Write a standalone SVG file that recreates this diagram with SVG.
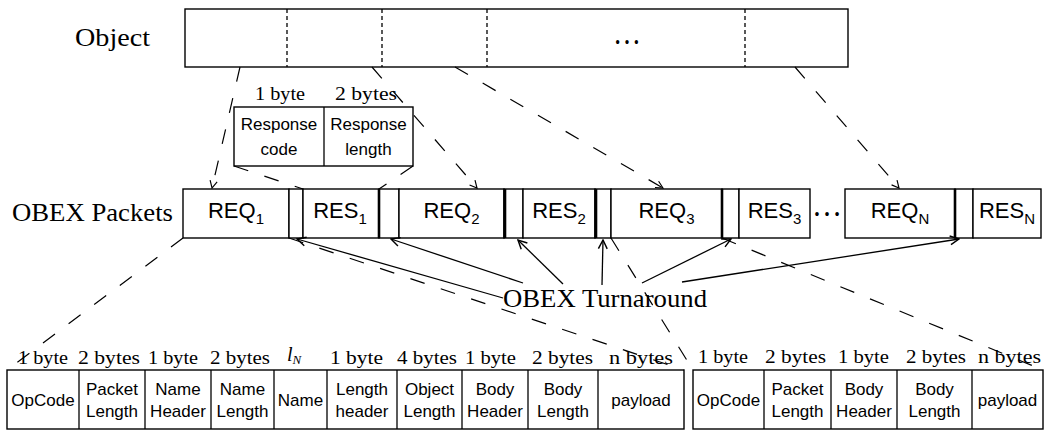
<svg xmlns="http://www.w3.org/2000/svg" width="1045" height="430" viewBox="0 0 1045 430">
<style>
.bx{fill:#fff;stroke:#000;stroke-width:1.4}
.thk{stroke:#000;stroke-width:2.6}
.dv{stroke:#000;stroke-width:1.3;stroke-dasharray:4,3}
.dl{fill:none;stroke:#000;stroke-width:1.2;stroke-dasharray:15,17}
.sl{fill:none;stroke:#000;stroke-width:1.3}
.serif{font-family:"Liberation Serif","Times New Roman",serif;fill:#000}
.big{font-size:25px}
.sz{font-size:18.5px}
.sans{font-family:"Liberation Sans",Arial,sans-serif;fill:#000;text-anchor:middle}
.pk{font-size:22px}
.f{font-size:17px}
</style>
<defs>
<marker id="ah" viewBox="0 0 10 10" refX="9" refY="5" markerWidth="9" markerHeight="9" markerUnits="userSpaceOnUse" orient="auto">
<path d="M1,1 L9,5 L1,9" fill="none" stroke="#000" stroke-width="1.3" stroke-dasharray="none"/>
</marker>
<marker id="ah2" viewBox="0 0 10 10" refX="9" refY="5" markerWidth="11" markerHeight="11" markerUnits="userSpaceOnUse" orient="auto">
<path d="M1,1 L9,5 L1,9" fill="none" stroke="#000" stroke-width="1.3"/>
</marker>
</defs>
<rect width="1045" height="430" fill="#fff"/>

<g id="object">
<text class="serif" x="75" y="46" font-size="26" textLength="75" lengthAdjust="spacingAndGlyphs">Object</text>
<rect class="bx" x="185" y="9" width="663" height="58"/>
<line class="dv" x1="287" y1="9" x2="287" y2="67"/>
<line class="dv" x1="382" y1="9" x2="382" y2="67"/>
<line class="dv" x1="487" y1="9" x2="487" y2="67"/>
<line class="dv" x1="745" y1="9" x2="745" y2="67"/>
<text class="serif" x="613" y="44" font-size="34" textLength="28" lengthAdjust="spacingAndGlyphs">…</text>
</g>

<g id="response">
<text class="serif sz" x="255" y="100" textLength="50" lengthAdjust="spacingAndGlyphs">1 byte</text>
<text class="serif sz" x="335" y="100" textLength="62" lengthAdjust="spacingAndGlyphs">2 bytes</text>
<rect class="bx" x="234" y="107" width="179" height="59"/>
<line class="sl" x1="324" y1="107" x2="324" y2="166"/>
<text class="sans f" x="279" y="130">Response</text>
<text class="sans f" x="279" y="155">code</text>
<text class="sans f" x="368.5" y="130">Response</text>
<text class="sans f" x="368.5" y="155">length</text>
</g>

<g id="packets">
<text class="serif big" x="12" y="221" textLength="161" lengthAdjust="spacingAndGlyphs">OBEX Packets</text>
<g id="req1"><rect class="bx" x="183" y="189" width="106" height="49"/><text class="sans pk" x="236" y="218">REQ<tspan font-size="15" dy="6">1</tspan></text></g>
<g id="gap1"><rect class="bx" x="289" y="189" width="14" height="49"/></g>
<g id="res1"><rect class="bx" x="303" y="189" width="76" height="49"/><text class="sans pk" x="340" y="218">RES<tspan font-size="15" dy="6">1</tspan></text></g>
<g id="gap2"><rect class="bx" x="379" y="189" width="20" height="49"/><line class="thk" x1="379" y1="189" x2="379" y2="238"/></g>
<g id="req2"><rect class="bx" x="399" y="189" width="105" height="49"/><text class="sans pk" x="451.5" y="218">REQ<tspan font-size="15" dy="6">2</tspan></text></g>
<g id="gap3"><rect class="bx" x="504" y="189" width="19" height="49"/><line class="thk" x1="505" y1="189" x2="505" y2="238"/></g>
<g id="res2"><rect class="bx" x="523" y="189" width="72" height="49"/><text class="sans pk" x="559" y="218">RES<tspan font-size="15" dy="6">2</tspan></text></g>
<g id="gap4"><rect class="bx" x="595" y="189" width="16" height="49"/><line class="thk" x1="596" y1="189" x2="596" y2="238"/></g>
<g id="req3"><rect class="bx" x="611" y="189" width="111" height="49"/><text class="sans pk" x="666.5" y="218">REQ<tspan font-size="15" dy="6">3</tspan></text></g>
<g id="gap5"><rect class="bx" x="722" y="189" width="17" height="49"/><line class="thk" x1="722" y1="189" x2="722" y2="238"/></g>
<g id="res3"><rect class="bx" x="739" y="189" width="71" height="49"/><text class="sans pk" x="774.5" y="218">RES<tspan font-size="15" dy="6">3</tspan></text></g>
<text class="serif" x="812" y="216" font-size="34" textLength="30" lengthAdjust="spacingAndGlyphs">…</text>
<g id="reqN"><rect class="bx" x="845" y="189" width="110" height="49"/><text class="sans pk" x="900" y="218">REQ<tspan font-size="15" dy="6">N</tspan></text></g>
<g id="gapN"><rect class="bx" x="955" y="189" width="18" height="49"/><line class="thk" x1="955" y1="189" x2="955" y2="238"/></g>
<g id="resN"><rect class="bx" x="973" y="189" width="68" height="49"/><text class="sans pk" x="1007" y="218">RES<tspan font-size="15" dy="6">N</tspan></text></g>
</g>

<g id="turnaround">
<text class="serif big" x="503" y="307" textLength="204" lengthAdjust="spacingAndGlyphs">OBEX Turnaround</text>
</g>

<g id="req-fields">
<text class="serif sz" x="18" y="364" textLength="50" lengthAdjust="spacingAndGlyphs">1 byte</text>
<text class="serif sz" x="78" y="364" textLength="62" lengthAdjust="spacingAndGlyphs">2 bytes</text>
<text class="serif sz" x="148" y="364" textLength="50" lengthAdjust="spacingAndGlyphs">1 byte</text>
<text class="serif sz" x="210" y="364" textLength="60" lengthAdjust="spacingAndGlyphs">2 bytes</text>
<text class="serif" x="287" y="361" font-size="20" font-style="italic">l<tspan font-size="13" dy="3">N</tspan></text>
<text class="serif sz" x="330" y="364" textLength="53" lengthAdjust="spacingAndGlyphs">1 byte</text>
<text class="serif sz" x="397" y="364" textLength="60" lengthAdjust="spacingAndGlyphs">4 bytes</text>
<text class="serif sz" x="465" y="364" textLength="51" lengthAdjust="spacingAndGlyphs">1 byte</text>
<text class="serif sz" x="532" y="364" textLength="61" lengthAdjust="spacingAndGlyphs">2 bytes</text>
<text class="serif sz" x="609" y="364" textLength="64" lengthAdjust="spacingAndGlyphs">n bytes</text>
<rect class="bx" x="7" y="370" width="677" height="59"/>
<line class="sl" x1="79" y1="370" x2="79" y2="429"/>
<line class="sl" x1="145" y1="370" x2="145" y2="429"/>
<line class="sl" x1="211" y1="370" x2="211" y2="429"/>
<line class="sl" x1="274" y1="370" x2="274" y2="429"/>
<line class="sl" x1="327" y1="370" x2="327" y2="429"/>
<line class="sl" x1="397" y1="370" x2="397" y2="429"/>
<line class="sl" x1="462" y1="370" x2="462" y2="429"/>
<line class="sl" x1="528" y1="370" x2="528" y2="429"/>
<line class="sl" x1="598" y1="370" x2="598" y2="429"/>
<text class="sans f" x="43" y="406">OpCode</text>
<text class="sans f" x="112" y="395">Packet</text><text class="sans f" x="112" y="417">Length</text>
<text class="sans f" x="178" y="395">Name</text><text class="sans f" x="178" y="417">Header</text>
<text class="sans f" x="242.5" y="395">Name</text><text class="sans f" x="242.5" y="417">Length</text>
<text class="sans f" x="300.5" y="406">Name</text>
<text class="sans f" x="362" y="395">Length</text><text class="sans f" x="362" y="417">header</text>
<text class="sans f" x="429.5" y="395">Object</text><text class="sans f" x="429.5" y="417">Length</text>
<text class="sans f" x="495" y="395">Body</text><text class="sans f" x="495" y="417">Header</text>
<text class="sans f" x="563" y="395">Body</text><text class="sans f" x="563" y="417">Length</text>
<text class="sans f" x="641" y="406">payload</text>
</g>

<g id="req3-fields">
<text class="serif sz" x="698" y="363" textLength="50" lengthAdjust="spacingAndGlyphs">1 byte</text>
<text class="serif sz" x="765" y="363" textLength="61" lengthAdjust="spacingAndGlyphs">2 bytes</text>
<text class="serif sz" x="838" y="363" textLength="51" lengthAdjust="spacingAndGlyphs">1 byte</text>
<text class="serif sz" x="906" y="363" textLength="60" lengthAdjust="spacingAndGlyphs">2 bytes</text>
<text class="serif sz" x="978" y="363" textLength="63" lengthAdjust="spacingAndGlyphs">n bytes</text>
<rect class="bx" x="693" y="370" width="350" height="59"/>
<line class="sl" x1="764" y1="370" x2="764" y2="429"/>
<line class="sl" x1="831" y1="370" x2="831" y2="429"/>
<line class="sl" x1="897" y1="370" x2="897" y2="429"/>
<line class="sl" x1="972" y1="370" x2="972" y2="429"/>
<text class="sans f" x="728.5" y="406">OpCode</text>
<text class="sans f" x="797.5" y="395">Packet</text><text class="sans f" x="797.5" y="417">Length</text>
<text class="sans f" x="864" y="395">Body</text><text class="sans f" x="864" y="417">Header</text>
<text class="sans f" x="934.5" y="395">Body</text><text class="sans f" x="934.5" y="417">Length</text>
<text class="sans f" x="1007.5" y="406">payload</text>
</g>

<g id="connectors">
<line class="dl" x1="240" y1="67" x2="212" y2="188" marker-end="url(#ah)"/>
<line class="dl" x1="372" y1="67" x2="477" y2="188" marker-end="url(#ah)"/>
<line class="dl" x1="455" y1="67" x2="663" y2="188" marker-end="url(#ah)"/>
<line class="dl" x1="795" y1="67" x2="899" y2="188" marker-end="url(#ah)"/>
<line class="dl" x1="234" y1="166" x2="303" y2="189"/>
<line class="dl" x1="413" y1="166" x2="379" y2="189"/>
<line class="dl" x1="183" y1="238" x2="7" y2="370"/>
<line class="dl" x1="289" y1="238" x2="684" y2="370"/>
<line class="dl" x1="611" y1="238" x2="693" y2="370"/>
<line class="dl" x1="722" y1="238" x2="1043" y2="370"/>
<line class="sl" x1="503" y1="298" x2="297" y2="239" marker-end="url(#ah2)"/>
<line class="sl" x1="523" y1="283" x2="391" y2="239" marker-end="url(#ah2)"/>
<line class="sl" x1="563" y1="284" x2="518" y2="240" marker-end="url(#ah2)"/>
<line class="sl" x1="602" y1="285" x2="603" y2="240" marker-end="url(#ah2)"/>
<line class="sl" x1="642" y1="283" x2="731" y2="239" marker-end="url(#ah2)"/>
<line class="sl" x1="682" y1="282" x2="959" y2="239" marker-end="url(#ah2)"/>
</g>
</svg>
